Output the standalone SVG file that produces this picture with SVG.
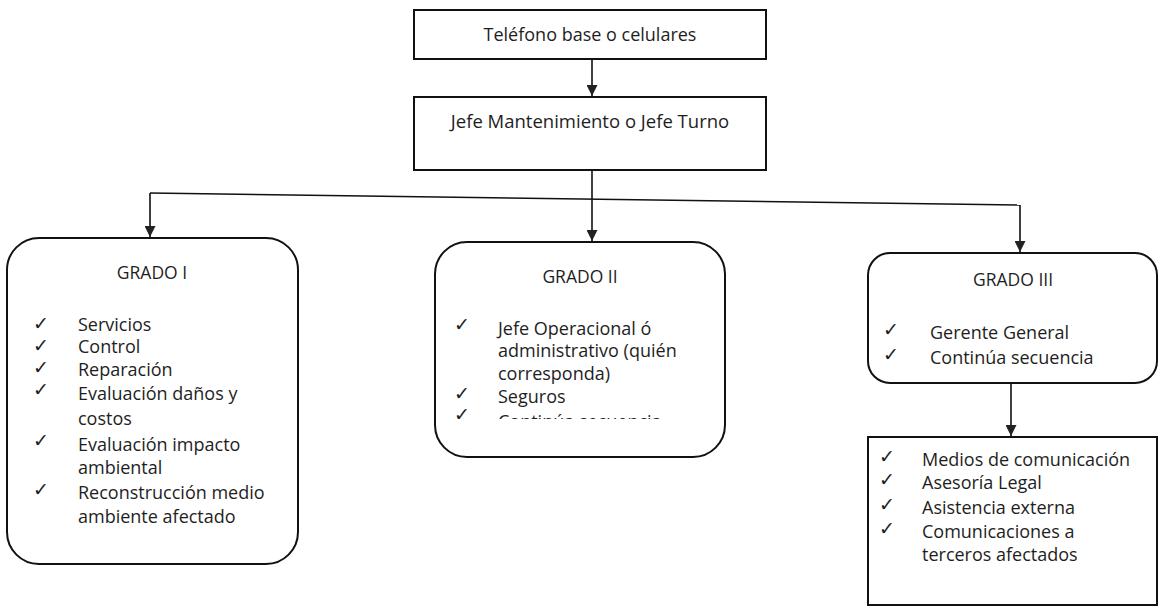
<svg xmlns="http://www.w3.org/2000/svg" width="1159" height="607" viewBox="0 0 1159 607">
<style>
.box{fill:#fff;stroke:#111;stroke-width:2}
.t{font-family:"Open Sans","Liberation Sans",sans-serif;fill:#1e1e1e;font-size:18px}
.h{font-family:"Open Sans","Liberation Sans",sans-serif;fill:#1e1e1e;font-size:17.5px;text-anchor:middle}
.ck{font-family:"DejaVu Sans",sans-serif;fill:#1e1e1e;font-size:19px}
.ln{fill:none;stroke:#111;stroke-width:1.6}
</style>
<defs>
<marker id="ah" viewBox="0 0 10 10" refX="10" refY="5" markerWidth="11" markerHeight="11" markerUnits="userSpaceOnUse" orient="auto">
<path d="M0,0 L10,5 L0,10 z" fill="#222"/>
</marker>
<clipPath id="cl2"><rect x="430" y="240" width="300" height="179"/></clipPath>
</defs>
<g id="connectors">
<line class="ln" x1="592" y1="59" x2="592" y2="96" marker-end="url(#ah)"/>
<line class="ln" x1="592" y1="170" x2="592" y2="241" marker-end="url(#ah)"/>
<line class="ln" x1="150" y1="193" x2="1020" y2="205"/>
<line class="ln" x1="150" y1="193" x2="150" y2="237" marker-end="url(#ah)"/>
<line class="ln" x1="1020" y1="205" x2="1020" y2="252" marker-end="url(#ah)"/>
<line class="ln" x1="1011" y1="384" x2="1011" y2="436" marker-end="url(#ah)"/>
</g>
<g id="telefono">
<rect class="box" x="414" y="10" width="352" height="49"/>
<text class="t" x="590" y="41" text-anchor="middle">Teléfono base o celulares</text>
</g>
<g id="jefe">
<rect class="box" x="414" y="97" width="352" height="73"/>
<text class="t" x="590" y="128" text-anchor="middle" style="font-size:18.5px">Jefe Mantenimiento o Jefe Turno</text>
</g>
<g id="grado1">
<rect class="box" x="7" y="238" width="291" height="326" rx="32"/>
<text class="h" x="152" y="279">GRADO I</text>
<text class="ck" x="33" y="330">✓</text><text class="t" x="78" y="331">Servicios</text>
<text class="ck" x="33" y="352">✓</text><text class="t" x="78" y="353">Control</text>
<text class="ck" x="33" y="374">✓</text><text class="t" x="78" y="376">Reparación</text>
<text class="ck" x="33" y="396">✓</text><text class="t" x="78" y="400">Evaluación daños y</text>
<text class="t" x="78" y="425">costos</text>
<text class="ck" x="33" y="447">✓</text><text class="t" x="78" y="451">Evaluación impacto</text>
<text class="t" x="78" y="474">ambiental</text>
<text class="ck" x="33" y="496">✓</text><text class="t" x="78" y="499">Reconstrucción medio</text>
<text class="t" x="78" y="523">ambiente afectado</text>
</g>
<g id="grado2">
<rect class="box" x="435" y="242" width="290" height="215" rx="32"/>
<text class="h" x="580" y="283">GRADO II</text>
<text class="ck" x="454" y="331">✓</text><text class="t" x="498" y="335">Jefe Operacional ó</text>
<text class="t" x="498" y="357">administrativo (quién</text>
<text class="t" x="498" y="380">corresponda)</text>
<text class="ck" x="454" y="400">✓</text><text class="t" x="498" y="403">Seguros</text>
<g clip-path="url(#cl2)">
<text class="ck" x="454" y="421">✓</text><text class="t" x="498" y="428">Continúa secuencia</text>
</g>
</g>
<g id="grado3">
<rect class="box" x="868" y="253" width="289" height="130" rx="22"/>
<text class="h" x="1013" y="286">GRADO III</text>
<text class="ck" x="883" y="336">✓</text><text class="t" x="930" y="339">Gerente General</text>
<text class="ck" x="883" y="361">✓</text><text class="t" x="930" y="364">Continúa secuencia</text>
</g>
<g id="externos">
<rect class="box" x="868" y="437" width="289" height="168"/>
<text class="ck" x="879" y="463">✓</text><text class="t" x="922" y="466">Medios de comunicación</text>
<text class="ck" x="879" y="486">✓</text><text class="t" x="922" y="489">Asesoría Legal</text>
<text class="ck" x="879" y="511">✓</text><text class="t" x="922" y="514">Asistencia externa</text>
<text class="ck" x="879" y="535">✓</text><text class="t" x="922" y="538">Comunicaciones a</text>
<text class="t" x="922" y="561">terceros afectados</text>
</g>
</svg>
